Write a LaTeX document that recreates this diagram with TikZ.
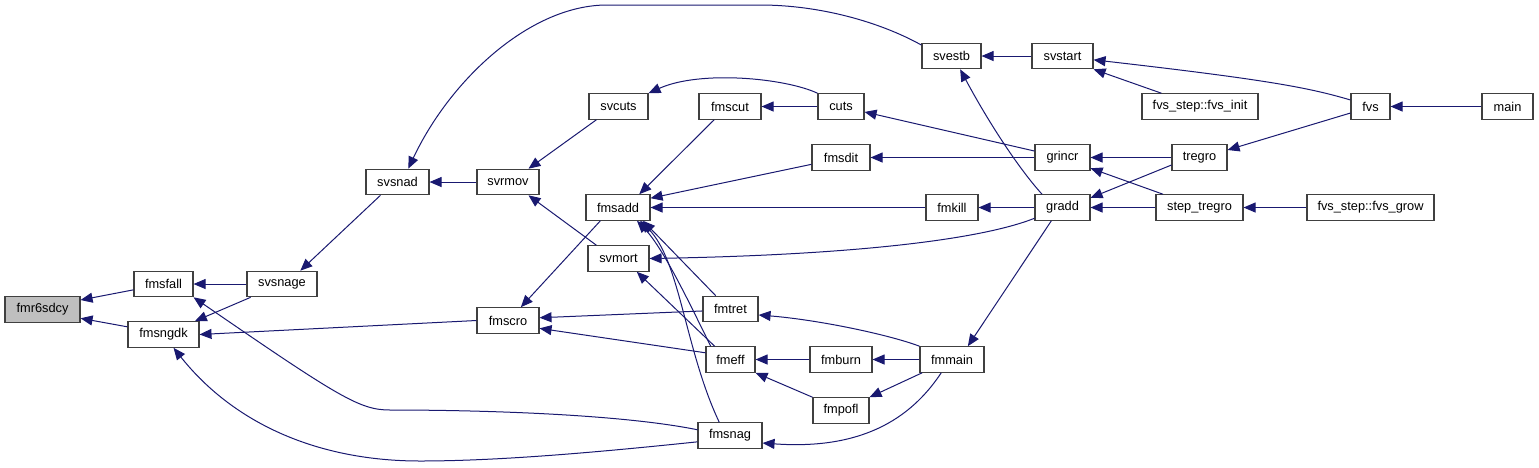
\documentclass[tikz,border=0pt]{standalone}
\usepackage{fontspec}
\setmainfont{Liberation Sans}
\usetikzlibrary{arrows.meta}
\definecolor{edgeblue}{HTML}{191970}

\begin{document}
\begin{tikzpicture}[x=1pt, y=-1pt,
  fn/.style={draw=black!75, line width=1.1pt, fill=white, minimum height=25.5pt,
    inner sep=0pt, font=\fontsize{12.8}{14}\selectfont},
  call/.style={draw=edgeblue, line width=1pt, -{Triangle[length=12pt, width=10pt]}}]
  \useasboundingbox (0,0) rectangle (1539,467);
  % functions
  \node[fn, fill=black!25, minimum width=75pt] (fmr6sdcy) at (42.5,309.5) {fmr6sdcy};
  \node[fn, minimum width=59pt] (fmsfall) at (163.5,284) {fmsfall};
  \node[fn, minimum width=71pt] (fmsngdk) at (163.5,334.5) {fmsngdk};
  \node[fn, minimum width=70pt] (svsnage) at (282,284) {svsnage};
  \node[fn, minimum width=63pt] (svsnad) at (397.5,182) {svsnad};
  \node[fn, minimum width=62pt] (svrmov) at (508,182) {svrmov};
  \node[fn, minimum width=59pt] (svcuts) at (618.5,106.5) {svcuts};
  \node[fn, minimum width=62pt] (fmscut) at (730,106.5) {fmscut};
  \node[fn, minimum width=46pt] (cuts) at (841,106.5) {cuts};
  \node[fn, minimum width=58pt] (fmsdit) at (841,157.5) {fmsdit};
  \node[fn, minimum width=64pt] (fmsadd) at (618,207.5) {fmsadd};
  \node[fn, minimum width=61pt] (svmort) at (618.5,258.5) {svmort};
  \node[fn, minimum width=62pt] (fmscro) at (508,320.5) {fmscro};
  \node[fn, minimum width=55pt] (fmtret) at (730.5,309) {fmtret};
  \node[fn, minimum width=49pt] (fmeff) at (730.5,359.5) {fmeff};
  \node[fn, minimum width=62pt] (fmburn) at (841,359.5) {fmburn};
  \node[fn, minimum width=64pt] (fmmain) at (952,359.5) {fmmain};
  \node[fn, minimum width=56pt] (fmpofl) at (841,410.5) {fmpofl};
  \node[fn, minimum width=64pt] (fmsnag) at (730,435.5) {fmsnag};
  \node[fn, minimum width=52pt] (fmkill) at (952,207.5) {fmkill};
  \node[fn, minimum width=55pt] (gradd) at (1062.5,207.5) {gradd};
  \node[fn, minimum width=55pt] (grincr) at (1062.5,157.5) {grincr};
  \node[fn, minimum width=59pt] (svestb) at (951.5,56) {svestb};
  \node[fn, minimum width=61pt] (svstart) at (1062.5,56) {svstart};
  \node[fn, minimum width=116pt] (fvsinit) at (1200,106.5) {fvs\_step::fvs\_init};
  \node[fn, minimum width=55pt] (tregro) at (1199.5,157.5) {tregro};
  \node[fn, minimum width=87pt] (steptregro) at (1199.5,207.5) {step\_tregro};
  \node[fn, minimum width=39pt] (fvs) at (1370.5,106.5) {fvs};
  \node[fn, minimum width=51pt] (main) at (1507.5,106.5) {main};
  \node[fn, minimum width=127pt] (fvsgrow) at (1370.5,207.5) {fvs\_step::fvs\_grow};
  % calls
  \draw[call] (fmsfall.191) -- (fmr6sdcy.14);
  \draw[call] (fmsngdk.168) -- (fmr6sdcy.-13);
  \draw[call] (svsnage.west) -- (fmsfall.east);
  \draw[call] (fmsnag.170) .. controls (620,414) and (480,410) .. (390,410)
    .. controls (360,410) and (340,398) .. (fmsfall.south east);
  \draw[call] (svsnage.203) -- (fmsngdk.23);
  \draw[call] (fmscro.west) -- (fmsngdk.east);
  \draw[call] (fmsnag.191) .. controls (600,452) and (500,461) .. (420,461)
    .. controls (320,461) and (235,425) .. (fmsngdk.-53);
  \draw[call] (svsnad.218) -- (svsnage.36);
  \draw[call] (svrmov.west) -- (svsnad.east);
  \draw[call] (svestb.160) .. controls (880,22) and (820,5) .. (760,5) -- (607,5)
    .. controls (530,5) and (450,80) .. (svsnad.51);
  \draw[call] (svcuts.211) -- (svrmov.33);
  \draw[call] (svmort.149) -- (svrmov.-33);
  \draw[call] (cuts.north west) .. controls (785,78) and (700,70) .. (svcuts.north east);
  \draw[call] (cuts.west) -- (fmscut.east);
  \draw[call] (fmscut.220) -- (fmsadd.32);
  \draw[call] (fmsdit.193) -- (fmsadd.16);
  \draw[call] (fmkill.west) -- (fmsadd.east);
  \draw[call] (fmtret.138) -- (fmsadd.-28);
  \draw[call] (fmeff.146) .. controls (695,315) and (665,250) .. (fmsadd.-35);
  \draw[call] (fmsnag.129) .. controls (685,350) and (680,260) .. (fmsadd.-31);
  \draw[call] (gradd.201) .. controls (980,240) and (850,255) .. (svmort.east);
  \draw[call] (fmeff.140) -- (svmort.-36);
  \draw[call] (fmsadd.217) -- (fmscro.46);
  \draw[call] (fmtret.184) -- (fmscro.5);
  \draw[call] (fmeff.165) -- (fmscro.-14);
  \draw[call] (fmmain.north west) .. controls (890,335) and (820,320) .. (fmtret.-12);
  \draw[call] (fmburn.west) -- (fmeff.east);
  \draw[call] (fmpofl.north west) -- (fmeff.south east);
  \draw[call] (fmmain.west) -- (fmburn.east);
  \draw[call] (fmmain.204) -- (fmpofl.north east);
  \draw[call] (fmmain.231) .. controls (910,420) and (860,450) .. (fmsnag.-13);
  \draw[call] (gradd.230) -- (fmmain.40);
  \draw[call] (grincr.167) -- (cuts.-13);
  \draw[call] (grincr.west) -- (fmsdit.east);
  \draw[call] (gradd.west) -- (fmkill.east);
  \draw[call] (gradd.147) .. controls (1020,170) and (990,125) .. (svestb.-57);
  \draw[call] (svstart.west) -- (svestb.east);
  \draw[call] (fvs.162) .. controls (1310,88) and (1270,80) .. (svstart.-7);
  \draw[call] (fvsinit.161) -- (svstart.south east);
  \draw[call] (tregro.west) -- (grincr.east);
  \draw[call] (steptregro.160) -- (grincr.-21);
  \draw[call] (tregro.195) -- (gradd.19);
  \draw[call] (steptregro.west) -- (gradd.east);
  \draw[call] (fvs.198) -- (tregro.15);
  \draw[call] (main.west) -- (fvs.east);
  \draw[call] (fvsgrow.west) -- (steptregro.east);
\end{tikzpicture}
\end{document}
